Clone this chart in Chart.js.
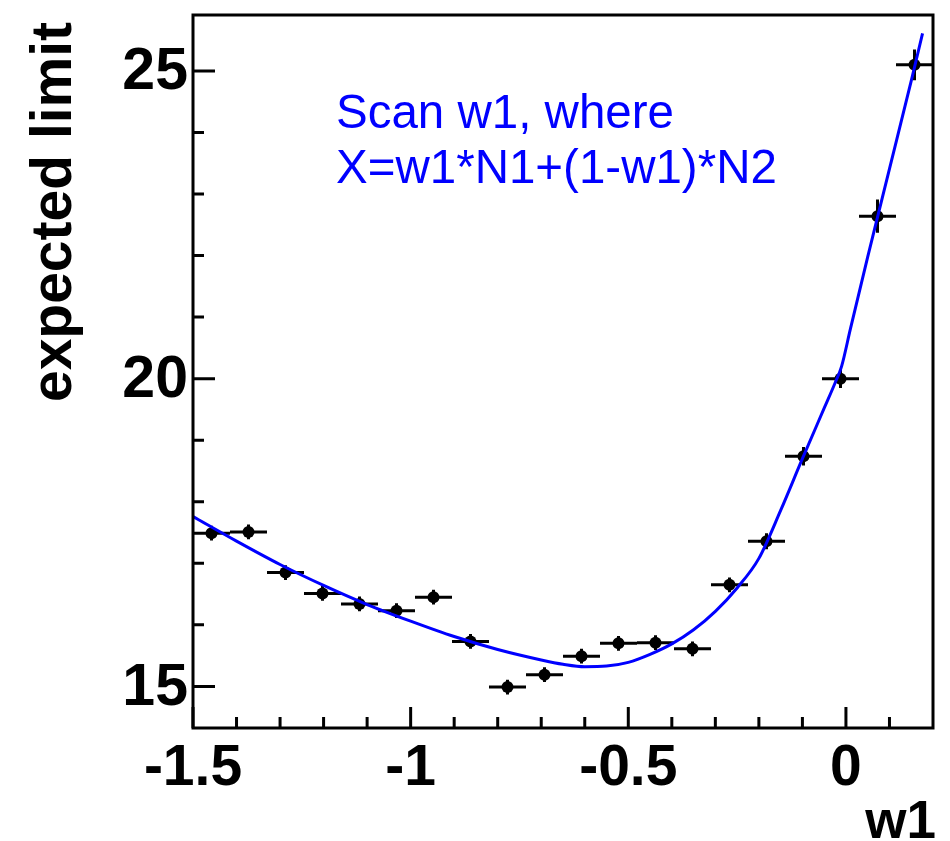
<!DOCTYPE html>
<html>
<head>
<meta charset="utf-8">
<script src="https://cdn.jsdelivr.net/npm/chart.js@4"></script>
<style>
  html, body { margin: 0; padding: 0; background: #fff; }
  #wrap { width: 950px; height: 841px; }
</style>
</head>
<body>
<div id="wrap"><canvas id="myChart" width="950" height="841"></canvas></div>
<script>
// scan points (bin centres in w1, expected limit, y error)
const binCenters = [-1.4575, -1.3725, -1.2875, -1.2025, -1.1175, -1.0325, -0.9475, -0.8625, -0.7775, -0.6925,
                    -0.6075, -0.5225, -0.4375, -0.3525, -0.2675, -0.1825, -0.0975, -0.0125, 0.0725, 0.1575];
const limits = [17.49, 17.51, 16.85, 16.51, 16.34, 16.23, 16.45, 15.73, 14.99, 15.19,
                15.49, 15.70, 15.71, 15.61, 16.65, 17.36, 18.74, 20.00, 22.64, 25.10];
const limitErr = [0.12, 0.12, 0.12, 0.12, 0.12, 0.12, 0.12, 0.12, 0.12, 0.12,
                  0.12, 0.12, 0.12, 0.12, 0.12, 0.13, 0.15, 0.15, 0.27, 0.25];
const binHalfWidth = 0.0425;

// fitted curve
const fitW = [-1.5, -1.4, -1.3, -1.2, -1.1, -1.0, -0.9, -0.8, -0.7, -0.65, -0.6, -0.55, -0.5, -0.45, -0.4,
              -0.35, -0.3, -0.25, -0.2, -0.15, -0.1, -0.05, -0.025, -0.01, 0.01, 0.05, 0.1, 0.15, 0.176];
const fitLimit = [17.76, 17.36, 16.98, 16.64, 16.33, 16.06, 15.81, 15.60, 15.43, 15.36, 15.32, 15.33, 15.39, 15.52, 15.69,
                  15.92, 16.22, 16.60, 17.08, 17.86, 18.70, 19.52, 19.93, 20.20, 20.80, 21.98, 23.41, 24.84, 25.61];

// axis ticks
const xMajorTicks = [-1.5, -1, -0.5, 0];
const xTickLabels = ['-1.5', '-1', '-0.5', '0'];
const xMinorTicks = [-1.4, -1.3, -1.2, -1.1, -0.9, -0.8, -0.7, -0.6, -0.4, -0.3, -0.2, -0.1, 0.1];
const yMajorTicks = [15, 20, 25];
const yTickLabels = ['15', '20', '25'];
const yMinorTicks = [16, 17, 18, 19, 21, 22, 23, 24];

const rootFrame = {
    id: 'rootFrame',
    beforeDatasetsDraw(chart) {
        const ctx = chart.ctx, xs = chart.scales.x, ys = chart.scales.y;
        ctx.save();
        ctx.strokeStyle = '#000';
        ctx.lineWidth = 3;
        binCenters.forEach((w, i) => {
            const px = xs.getPixelForValue(w), py = ys.getPixelForValue(limits[i]);
            ctx.beginPath();
            ctx.moveTo(xs.getPixelForValue(w - binHalfWidth), py);
            ctx.lineTo(xs.getPixelForValue(w + binHalfWidth), py);
            ctx.moveTo(px, ys.getPixelForValue(limits[i] - limitErr[i]));
            ctx.lineTo(px, ys.getPixelForValue(limits[i] + limitErr[i]));
            ctx.stroke();
        });
        ctx.restore();
    },
    afterDraw(chart) {
        const ctx = chart.ctx, a = chart.chartArea, xs = chart.scales.x, ys = chart.scales.y;
        ctx.save();
        ctx.strokeStyle = '#000';
        ctx.lineWidth = 3;
        ctx.strokeRect(a.left, a.top, a.right - a.left, a.bottom - a.top);

        ctx.beginPath();
        xMajorTicks.forEach(v => { const p = xs.getPixelForValue(v); ctx.moveTo(p, a.bottom); ctx.lineTo(p, a.bottom - 21); });
        xMinorTicks.forEach(v => { const p = xs.getPixelForValue(v); ctx.moveTo(p, a.bottom); ctx.lineTo(p, a.bottom - 11); });
        yMajorTicks.forEach(v => { const p = ys.getPixelForValue(v); ctx.moveTo(a.left, p); ctx.lineTo(a.left + 22, p); });
        yMinorTicks.forEach(v => { const p = ys.getPixelForValue(v); ctx.moveTo(a.left, p); ctx.lineTo(a.left + 11, p); });
        ctx.stroke();

        ctx.fillStyle = '#000';
        ctx.font = 'bold 57px "Liberation Sans", Arial, sans-serif';
        ctx.textAlign = 'center';
        ctx.textBaseline = 'alphabetic';
        xMajorTicks.forEach((v, i) => ctx.fillText(xTickLabels[i], xs.getPixelForValue(v), 785));
        ctx.font = 'bold 59px "Liberation Sans", Arial, sans-serif';
        ctx.textAlign = 'right';
        ctx.textBaseline = 'middle';
        yMajorTicks.forEach((v, i) => ctx.fillText(yTickLabels[i], 188, ys.getPixelForValue(v) + 2));

        // axis titles
        ctx.font = 'bold 53px "Liberation Sans", Arial, sans-serif';
        ctx.textAlign = 'right';
        ctx.textBaseline = 'alphabetic';
        ctx.fillText('w1', 936, 838);

        ctx.save();
        ctx.translate(71, 212);
        ctx.rotate(-Math.PI / 2);
        ctx.textAlign = 'center';
        ctx.font = 'bold 57px "Liberation Sans", Arial, sans-serif';
        ctx.fillText('expected limit', 0, 0);
        ctx.restore();

        // annotation
        ctx.fillStyle = '#0000ff';
        ctx.font = '47.5px "Liberation Sans", Arial, sans-serif';
        ctx.textAlign = 'left';
        ctx.fillText('Scan w1, where', 336, 128);
        ctx.fillText('X=w1*N1+(1-w1)*N2', 336, 183);
        ctx.restore();
    }
};

new Chart(document.getElementById('myChart'), {
    type: 'scatter',
    data: {
        datasets: [{
            type: 'line',
            label: 'fit',
            data: fitW.map((w, i) => ({x: w, y: fitLimit[i]})),
            borderColor: '#0000ff',
            borderWidth: 3,
            pointRadius: 0,
            fill: false,
            cubicInterpolationMode: 'monotone'
        }, {
            label: 'expected limit',
            data: binCenters.map((w, i) => ({x: w, y: limits[i]})),
            backgroundColor: '#000',
            borderColor: '#000',
            pointRadius: 6,
            pointBorderWidth: 0
        }]
    },
    options: {
        responsive: false,
        animation: false,
        layout: { padding: { left: 193, right: 17, top: 15, bottom: 113 } },
        plugins: { legend: { display: false }, tooltip: { enabled: false } },
        scales: {
            x: { type: 'linear', min: -1.5, max: 0.2, display: false },
            y: { type: 'linear', min: 14.324, max: 25.909, display: false }
        }
    },
    plugins: [rootFrame]
});
</script>
</body>
</html>
